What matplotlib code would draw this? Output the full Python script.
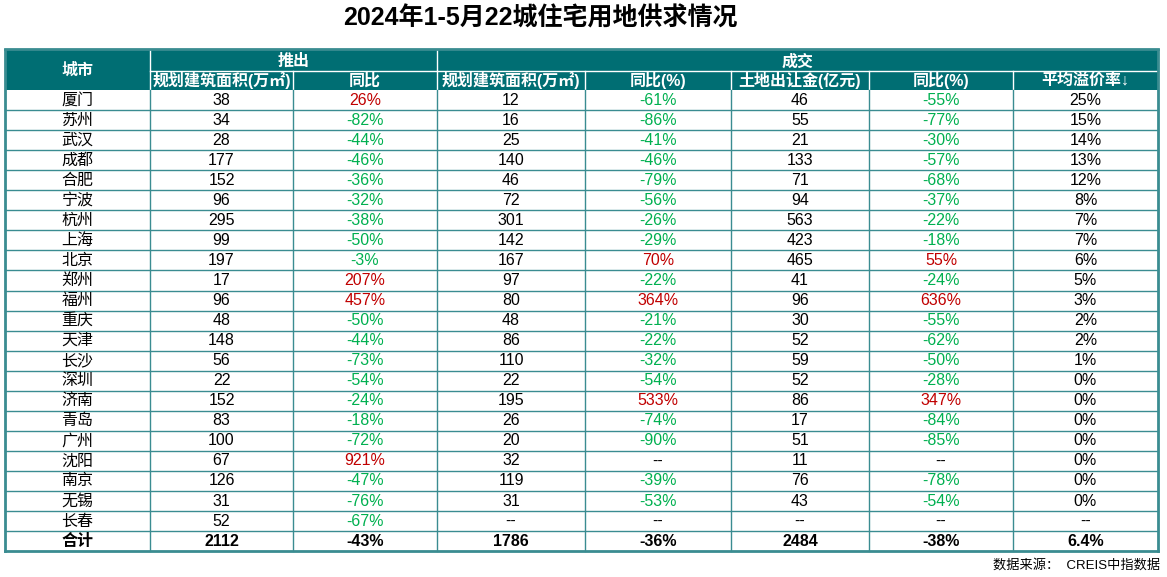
import matplotlib.pyplot as plt

plt.rcParams['font.family'] = ['Liberation Sans', 'Noto Sans CJK SC', 'DejaVu Sans']

cities = ['厦门', '苏州', '武汉', '成都', '合肥', '宁波', '杭州', '上海', '北京', '郑州', '福州',
          '重庆', '天津', '长沙', '深圳', '济南', '青岛', '广州', '沈阳', '南京', '无锡', '长春']
supply_area = ['38', '34', '28', '177', '152', '96', '295', '99', '197', '17', '96',
               '48', '148', '56', '22', '152', '83', '100', '67', '126', '31', '52']
supply_yoy = ['26%', '-82%', '-44%', '-46%', '-36%', '-32%', '-38%', '-50%', '-3%', '207%', '457%',
              '-50%', '-44%', '-73%', '-54%', '-24%', '-18%', '-72%', '921%', '-47%', '-76%', '-67%']
deal_area = ['12', '16', '25', '140', '46', '72', '301', '142', '167', '97', '80',
             '48', '86', '110', '22', '195', '26', '20', '32', '119', '31', '--']
deal_area_yoy = ['-61%', '-86%', '-41%', '-46%', '-79%', '-56%', '-26%', '-29%', '70%', '-22%', '364%',
                 '-21%', '-22%', '-32%', '-54%', '533%', '-74%', '-90%', '--', '-39%', '-53%', '--']
deal_money = ['46', '55', '21', '133', '71', '94', '563', '423', '465', '41', '96',
              '30', '52', '59', '52', '86', '17', '51', '11', '76', '43', '--']
deal_money_yoy = ['-55%', '-77%', '-30%', '-57%', '-68%', '-37%', '-22%', '-18%', '55%', '-24%', '636%',
                  '-55%', '-62%', '-50%', '-28%', '347%', '-84%', '-85%', '--', '-78%', '-54%', '--']
premium = ['25%', '15%', '14%', '13%', '12%', '8%', '7%', '7%', '6%', '5%', '3%',
           '2%', '2%', '1%', '0%', '0%', '0%', '0%', '0%', '0%', '0%', '--']
totals = ['合计', '2112', '-43%', '1786', '-36%', '2484', '-38%', '6.4%']
sub_headers = ['规划建筑面积(万㎡)', '同比', '规划建筑面积(万㎡)', '同比(%)',
               '土地出让金(亿元)', '同比(%)', '平均溢价率↓']

TEAL = '#006E73'
LINE = '#3A8C91'
RED = '#C00000'
GREEN = '#00B050'

col_x = [5, 150, 293, 437, 585, 731, 869, 1013, 1158]
top, h1, h2 = 50, 71, 90
row_h = 20.05

fig = plt.figure(figsize=(11.67, 5.77), dpi=100)
ax = fig.add_axes([0, 0, 1, 1])
ax.set_xlim(0, 1167)
ax.set_ylim(577, 0)
ax.axis('off')

ax.text(540, 18, '2024年1-5月22城住宅用地供求情况', ha='center', va='center',
        fontsize=18, fontweight='bold')

# 表头
ax.add_patch(plt.Rectangle((col_x[0], top), col_x[-1] - col_x[0], h2 - top, color=TEAL, lw=0))
hdr = dict(ha='center', va='center', color='white', fontsize=11.5, fontweight='bold')
ax.text((col_x[0] + col_x[1]) / 2, (top + h2) / 2, '城市', **hdr)
ax.text((col_x[1] + col_x[3]) / 2, (top + h1) / 2 + 1, '推出', **hdr)
ax.text((col_x[3] + col_x[8]) / 2, (top + h1) / 2 + 1, '成交', **hdr)
for i, s in enumerate(sub_headers):
    ax.text((col_x[i + 1] + col_x[i + 2]) / 2, (h1 + h2) / 2, s, **hdr)
ax.plot([col_x[1], col_x[8]], [h1, h1], color='white', lw=1)
for x in [col_x[1], col_x[3]]:
    ax.plot([x, x], [top, h2], color='white', lw=1)
for x in col_x[2:8]:
    if x != col_x[3]:
        ax.plot([x, x], [h1, h2], color='white', lw=1)


def color_of(s):
    if s.endswith('%'):
        return GREEN if s.startswith('-') else RED
    return 'black'


n = len(cities)
for r in range(n):
    yc = h2 + row_h * (r + 0.5)
    vals = [cities[r], supply_area[r], supply_yoy[r], deal_area[r], deal_area_yoy[r],
            deal_money[r], deal_money_yoy[r], premium[r]]
    for c, v in enumerate(vals):
        col = color_of(v) if c in (2, 4, 6) else 'black'
        ax.text((col_x[c] + col_x[c + 1]) / 2, yc, v, ha='center', va='center',
                fontsize=11.5, color=col)
yc = h2 + row_h * (n + 0.5)
for c, v in enumerate(totals):
    ax.text((col_x[c] + col_x[c + 1]) / 2, yc, v, ha='center', va='center',
            fontsize=11.5, fontweight='bold')

bottom = h2 + row_h * (n + 1)
for r in range(1, n + 1):
    y = h2 + row_h * r
    ax.plot([col_x[0], col_x[-1]], [y, y], color=LINE, lw=1)
for x in col_x[1:-1]:
    ax.plot([x, x], [h2, bottom], color=LINE, lw=1)
ax.plot([col_x[0], col_x[-1]], [bottom, bottom], color=LINE, lw=2)
ax.plot([col_x[0], col_x[0]], [top, bottom], color=LINE, lw=2)
ax.plot([col_x[-1], col_x[-1]], [top, bottom], color=LINE, lw=2)
ax.plot([col_x[0], col_x[-1]], [top - 1, top - 1], color=LINE, lw=2)

ax.text(1160, 565, '数据来源：  CREIS中指数据', ha='right', va='center', fontsize=9.5)

fig.savefig('out.png', dpi=100)
